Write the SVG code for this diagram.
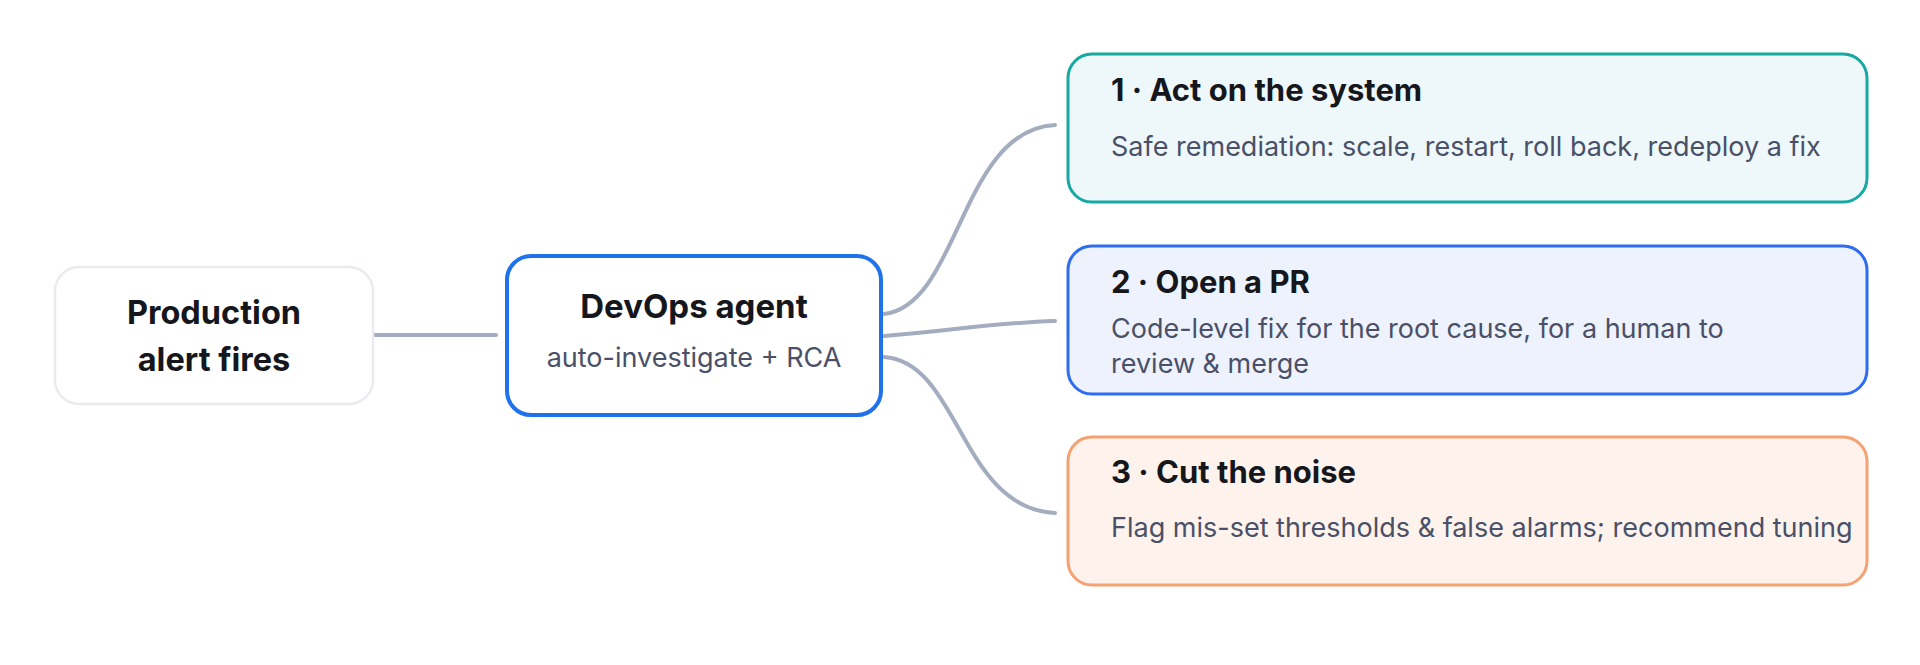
<svg xmlns="http://www.w3.org/2000/svg" width="1920" height="665" viewBox="0 0 1920 665">
<style>
.t{font-family:Inter,"Liberation Sans",Arial,sans-serif;font-weight:bold;fill:#15171c}
.d{font-family:Inter,"Liberation Sans",Arial,sans-serif;fill:#4a5068;font-size:27px}
.c{fill:none;stroke:#a3adbf;stroke-width:4;stroke-linecap:round}
</style>
<rect width="1920" height="665" fill="#fff"/>
<g id="connectors">
<path class="c" d="M375 335 H496"/>
<path class="c" d="M884 314 C960 305 960 130 1055 125"/>
<path class="c" d="M884 336 C960 330 990 323 1055 321"/>
<path class="c" d="M884 357 C960 362 960 508 1055 513"/>
</g>
<g id="production">
<rect x="55" y="267" width="318" height="137" rx="24" fill="#fff" stroke="#e9ebf1" stroke-width="2.5"/>
<text class="t" x="214" y="324" font-size="32.5" text-anchor="middle">Production</text>
<text class="t" x="214" y="371" font-size="32.5" text-anchor="middle">alert fires</text>
</g>
<g id="devops">
<rect x="507" y="256" width="374" height="159" rx="24" fill="#fff" stroke="#1f72ea" stroke-width="4"/>
<text class="t" x="694" y="318" font-size="33" text-anchor="middle">DevOps agent</text>
<text class="d" x="694" y="367" text-anchor="middle">auto-investigate + RCA</text>
</g>
<g id="act">
<rect x="1068" y="54" width="799" height="148" rx="24" fill="#eef8fa" stroke="#17a9a2" stroke-width="3"/>
<text class="t" x="1111" y="101" font-size="31">1 · Act on the system</text>
<text class="d" x="1111" y="156">Safe remediation: scale, restart, roll back, redeploy a fix</text>
</g>
<g id="pr">
<rect x="1068" y="246" width="799" height="148" rx="24" fill="#eef2fd" stroke="#2f6df0" stroke-width="3"/>
<text class="t" x="1111" y="293" font-size="31">2 · Open a PR</text>
<text class="d" x="1111" y="338">Code-level fix for the root cause, for a human to</text>
<text class="d" x="1111" y="373">review &amp; merge</text>
</g>
<g id="noise">
<rect x="1068" y="437" width="799" height="148" rx="24" fill="#fef3ec" stroke="#f4a274" stroke-width="3"/>
<text class="t" x="1111" y="483" font-size="31">3 · Cut the noise</text>
<text class="d" x="1111" y="537">Flag mis-set thresholds &amp; false alarms; recommend tuning</text>
</g>
</svg>
